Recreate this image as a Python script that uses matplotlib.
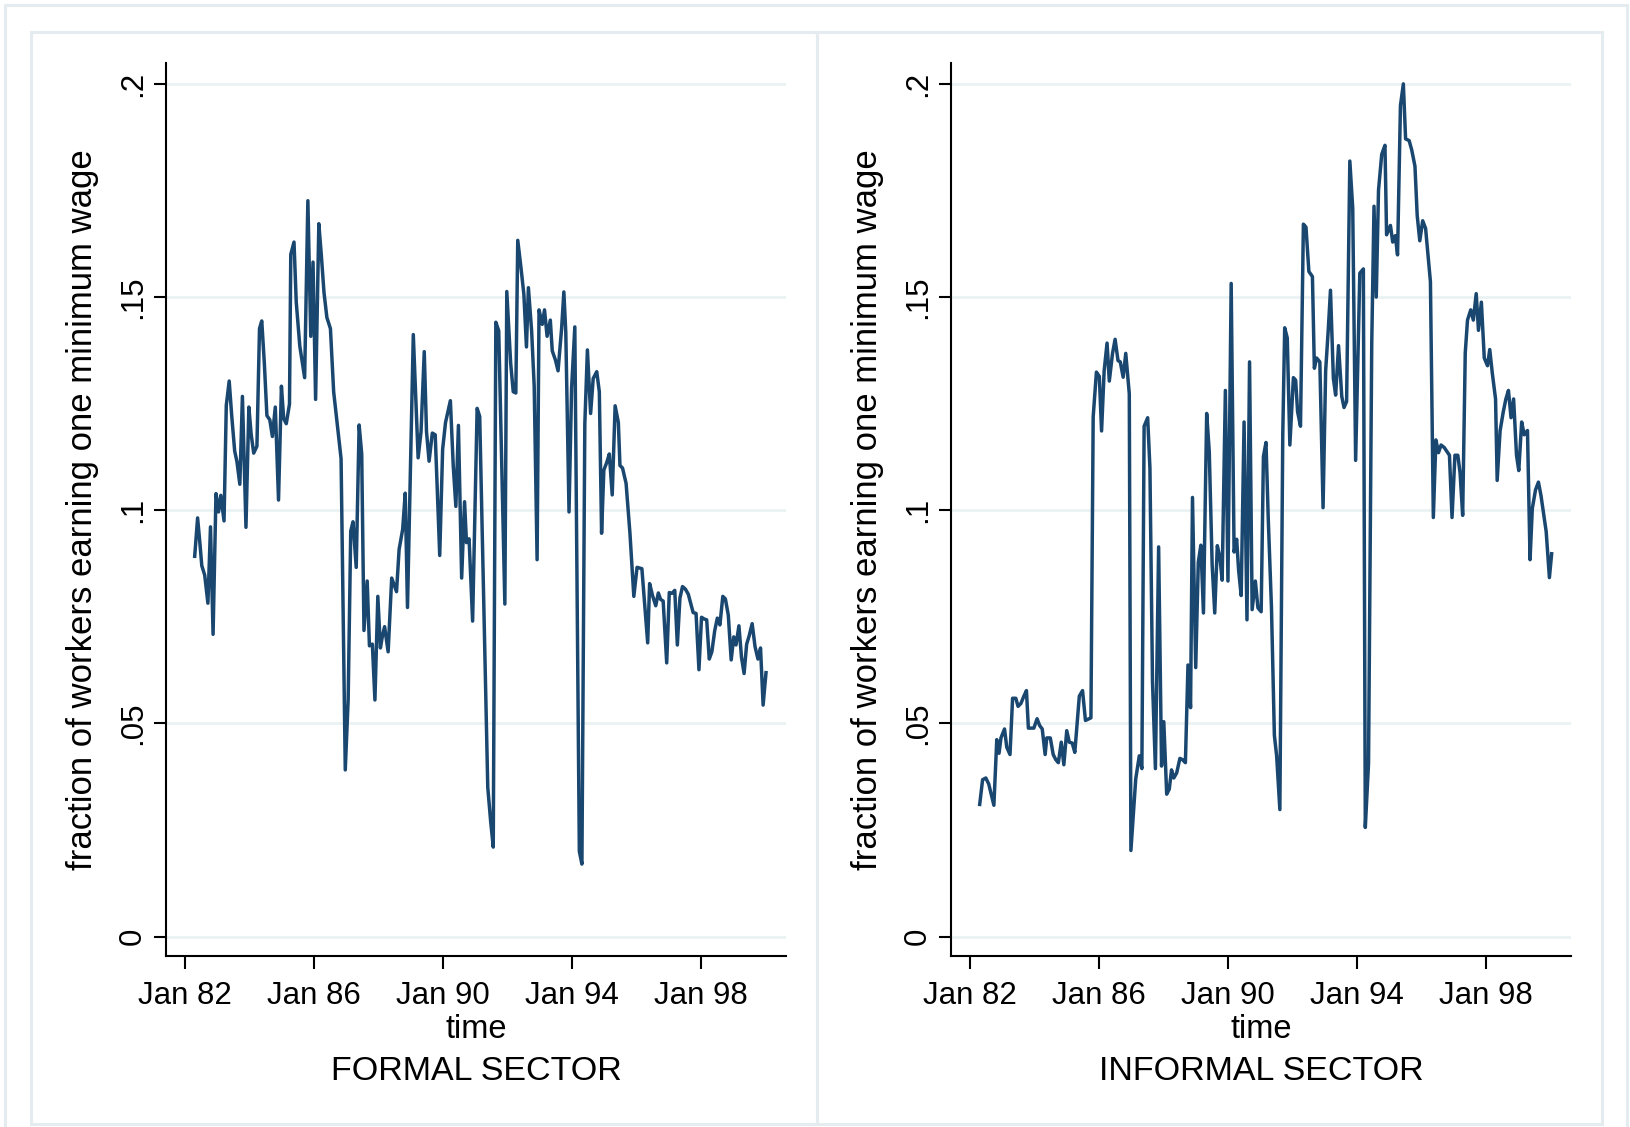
import matplotlib
matplotlib.use("Agg")
import matplotlib.pyplot as plt
from matplotlib.patches import Rectangle

plt.rcParams['font.family'] = ['Liberation Sans', 'DejaVu Sans']

# fraction of workers earning exactly one minimum wage, by month (decimal years)
formal_t = [
    1982.31, 1982.40, 1982.47, 1982.53, 1982.62, 1982.72, 1982.80, 1982.88, 1982.97, 1983.05,
    1983.12, 1983.22, 1983.29, 1983.38, 1983.46, 1983.55, 1983.62, 1983.71, 1983.79, 1983.90,
    1983.99, 1984.06, 1984.14, 1984.24, 1984.32, 1984.39, 1984.47, 1984.55, 1984.64, 1984.72,
    1984.81, 1984.91, 1985.00, 1985.07, 1985.15, 1985.25, 1985.29, 1985.39, 1985.46, 1985.57,
    1985.72, 1985.82, 1985.91, 1985.98, 1986.06, 1986.16, 1986.24, 1986.32, 1986.41, 1986.52,
    1986.62, 1986.73, 1986.85, 1986.98, 1987.07, 1987.15, 1987.22, 1987.32, 1987.41, 1987.49,
    1987.56, 1987.66, 1987.73, 1987.82, 1987.90, 1987.99, 1988.07, 1988.13, 1988.20, 1988.31,
    1988.42, 1988.57, 1988.65, 1988.76, 1988.84, 1988.91, 1989.09, 1989.24, 1989.33, 1989.43,
    1989.50, 1989.58, 1989.68, 1989.77, 1989.91, 1990.00, 1990.09, 1990.17, 1990.24, 1990.33,
    1990.41, 1990.49, 1990.59, 1990.68, 1990.74, 1990.82, 1990.93, 1991.07, 1991.15, 1991.40,
    1991.49, 1991.57, 1991.65, 1991.74, 1991.93, 1991.99, 1992.11, 1992.19, 1992.27, 1992.33,
    1992.43, 1992.52, 1992.60, 1992.66, 1992.76, 1992.84, 1992.93, 1992.99, 1993.09, 1993.16,
    1993.24, 1993.34, 1993.40, 1993.50, 1993.58, 1993.69, 1993.76, 1993.82, 1993.92, 1994.00,
    1994.10, 1994.24, 1994.32, 1994.41, 1994.49, 1994.59, 1994.67, 1994.78, 1994.86, 1994.93,
    1995.00, 1995.09, 1995.17, 1995.26, 1995.35, 1995.45, 1995.50, 1995.58, 1995.69, 1995.81,
    1995.93, 1996.03, 1996.18, 1996.36, 1996.42, 1996.51, 1996.61, 1996.69, 1996.76, 1996.84,
    1996.95, 1997.03, 1997.11, 1997.20, 1997.28, 1997.36, 1997.44, 1997.53, 1997.62, 1997.70,
    1997.77, 1997.86, 1997.95, 1998.03, 1998.11, 1998.19, 1998.27, 1998.35, 1998.44, 1998.52,
    1998.60, 1998.69, 1998.77, 1998.86, 1998.95, 1999.03, 1999.10, 1999.19, 1999.27, 1999.35,
    1999.43, 1999.51, 1999.60, 1999.69, 1999.78, 1999.86, 1999.94, 2000.03,
]
formal_v = [
    .0892, .0982, .0924, .0870, .0848, .0782, .0961, .0709, .1039, .0996,
    .1035, .0975, .1246, .1303, .1220, .1139, .1114, .1061, .1267, .0960,
    .1242, .1179, .1134, .1150, .1426, .1444, .1345, .1222, .1212, .1173,
    .1242, .1024, .1291, .1215, .1203, .1249, .1600, .1629, .1488, .1385,
    .1311, .1726, .1408, .1582, .1260, .1672, .1596, .1511, .1452, .1426,
    .1278, .1202, .1121, .0391, .0556, .0951, .0973, .0866, .1200, .1132,
    .0718, .0834, .0682, .0686, .0555, .0798, .0677, .0704, .0727, .0668,
    .0841, .0809, .0908, .0955, .1040, .0772, .1412, .1123, .1184, .1372,
    .1184, .1115, .1181, .1177, .0894, .1143, .1206, .1233, .1257, .1103,
    .1009, .1199, .0841, .1020, .0924, .0933, .0740, .1239, .1220, .0350,
    .0270, .0210, .1441, .1421, .0780, .1513, .1345, .1278, .1275, .1633,
    .1569, .1506, .1383, .1522, .1421, .1291, .0884, .1470, .1436, .1470,
    .1408, .1446, .1374, .1352, .1327, .1426, .1512, .1417, .0996, .1287,
    .1430, .0200, .0170, .1202, .1376, .1227, .1309, .1325, .1278, .0946,
    .1094, .1112, .1132, .1036, .1245, .1206, .1105, .1099, .1063, .0946,
    .0798, .0866, .0863, .0689, .0828, .0800, .0776, .0806, .0791, .0787,
    .0642, .0807, .0805, .0812, .0684, .0794, .0821, .0815, .0803, .0780,
    .0760, .0758, .0626, .0749, .0745, .0743, .0651, .0668, .0718, .0747,
    .0731, .0798, .0792, .0754, .0649, .0703, .0684, .0729, .0655, .0617,
    .0686, .0706, .0734, .0680, .0651, .0677, .0543, .0619,
]

informal_t = [
    1982.31, 1982.40, 1982.50, 1982.59, 1982.75, 1982.84, 1982.91, 1982.97, 1983.08, 1983.15,
    1983.25, 1983.33, 1983.43, 1983.50, 1983.59, 1983.68, 1983.76, 1983.82, 1983.99, 1984.09,
    1984.17, 1984.25, 1984.34, 1984.39, 1984.50, 1984.59, 1984.67, 1984.75, 1984.84, 1984.92,
    1985.01, 1985.09, 1985.18, 1985.26, 1985.40, 1985.50, 1985.59, 1985.76, 1985.83, 1985.93,
    1986.02, 1986.09, 1986.17, 1986.26, 1986.33, 1986.43, 1986.51, 1986.60, 1986.67, 1986.76,
    1986.84, 1986.95, 1987.00, 1987.15, 1987.26, 1987.34, 1987.41, 1987.52, 1987.59, 1987.67,
    1987.76, 1987.86, 1987.95, 1988.02, 1988.11, 1988.19, 1988.26, 1988.33, 1988.42, 1988.52,
    1988.60, 1988.69, 1988.77, 1988.85, 1988.91, 1989.01, 1989.09, 1989.17, 1989.25, 1989.35,
    1989.43, 1989.52, 1989.60, 1989.68, 1989.76, 1989.83, 1989.93, 1990.01, 1990.11, 1990.20,
    1990.28, 1990.34, 1990.42, 1990.51, 1990.60, 1990.68, 1990.76, 1990.86, 1990.94, 1991.04,
    1991.11, 1991.19, 1991.26, 1991.36, 1991.45, 1991.52, 1991.62, 1991.71, 1991.77, 1991.85,
    1991.93, 1992.04, 1992.11, 1992.17, 1992.26, 1992.35, 1992.43, 1992.52, 1992.63, 1992.69,
    1992.76, 1992.86, 1992.96, 1993.04, 1993.12, 1993.19, 1993.28, 1993.35, 1993.44, 1993.54,
    1993.61, 1993.69, 1993.79, 1993.88, 1993.97, 1994.10, 1994.21, 1994.27, 1994.37, 1994.47,
    1994.54, 1994.61, 1994.68, 1994.78, 1994.88, 1994.93, 1995.05, 1995.12, 1995.20, 1995.27,
    1995.36, 1995.45, 1995.52, 1995.63, 1995.71, 1995.81, 1995.88, 1995.96, 1996.05, 1996.14,
    1996.29, 1996.38, 1996.46, 1996.54, 1996.62, 1996.72, 1996.88, 1996.96, 1997.05, 1997.14,
    1997.21, 1997.29, 1997.37, 1997.44, 1997.54, 1997.62, 1997.71, 1997.78, 1997.87, 1997.96,
    1998.06, 1998.13, 1998.21, 1998.31, 1998.36, 1998.45, 1998.55, 1998.63, 1998.71, 1998.79,
    1998.87, 1998.96, 1999.03, 1999.12, 1999.20, 1999.30, 1999.38, 1999.45, 1999.55, 1999.64,
    1999.72, 1999.88, 1999.98, 2000.05,
]
informal_v = [
    .0310, .0368, .0372, .0358, .0308, .0462, .0430, .0466, .0487, .0444,
    .0427, .0559, .0559, .0540, .0547, .0564, .0577, .0489, .0489, .0511,
    .0495, .0487, .0427, .0466, .0466, .0427, .0415, .0408, .0456, .0403,
    .0483, .0456, .0454, .0432, .0564, .0577, .0507, .0513, .1219, .1324,
    .1314, .1186, .1327, .1392, .1303, .1368, .1401, .1351, .1348, .1312,
    .1368, .1273, .0202, .0370, .0424, .0394, .1197, .1217, .1099, .0597,
    .0394, .0914, .0400, .0504, .0334, .0346, .0391, .0372, .0384, .0418,
    .0415, .0408, .0637, .0537, .1030, .0631, .0878, .0918, .0759, .1227,
    .1138, .0872, .0759, .0917, .0890, .0836, .1281, .0834, .1532, .0902,
    .0932, .0860, .0800, .1207, .0743, .1348, .0767, .0834, .0771, .0762,
    .1126, .1159, .0980, .0771, .0472, .0424, .0298, .1177, .1428, .1404,
    .1153, .1311, .1305, .1231, .1197, .1671, .1664, .1560, .1548, .1333,
    .1357, .1348, .1006, .1327, .1422, .1516, .1309, .1270, .1386, .1267,
    .1241, .1255, .1819, .1709, .1117, .1556, .1566, .0256, .0406, .1392,
    .1713, .1500, .1751, .1835, .1856, .1646, .1668, .1629, .1644, .1599,
    .1949, .2000, .1871, .1867, .1845, .1807, .1691, .1632, .1679, .1661,
    .1536, .0983, .1165, .1135, .1153, .1147, .1129, .0983, .1129, .1129,
    .1087, .0988, .1369, .1446, .1470, .1446, .1508, .1422, .1488, .1357,
    .1339, .1377, .1321, .1261, .1070, .1186, .1231, .1261, .1281, .1217,
    .1261, .1129, .1093, .1207, .1177, .1187, .0884, .1004, .1048, .1066,
    .1034, .0950, .0842, .0898,
]

year_ticks = [1982, 1986, 1990, 1994, 1998]
year_labels = ['Jan 82', 'Jan 86', 'Jan 90', 'Jan 94', 'Jan 98']
frac_ticks = [0, .05, .1, .15, .2]
frac_labels = ['0', '.05', '.1', '.15', '.2']
panels = ['FORMAL SECTOR', 'INFORMAL SECTOR']

W, H = 1630, 1127
LINE = '#1a476f'
GRID = '#eaf2f3'
FRAME = '#e4ecef'

AX_TOP, AX_BOT, AX_W = 63, 956, 620

fig = plt.figure(figsize=(W / 100, H / 100), dpi=100)
fig.patch.set_facecolor('white')


def box(x0, y0, x1, y1):
    # pixel box (top-left origin) drawn on the figure
    fig.add_artist(Rectangle((x0 / W, 1 - y1 / H), (x1 - x0) / W, (y1 - y0) / H,
                             transform=fig.transFigure, fill=False,
                             ec=FRAME, lw=2.2, zorder=0))


box(5, 5, 1627, 1130)
box(31, 32, 817, 1124)
box(817, 32, 1602, 1124)


def panel(left_px, t, v, title):
    ax_h = AX_BOT - AX_TOP
    ax = fig.add_axes([left_px / W, 1 - AX_BOT / H, AX_W / W, ax_h / H])
    ax.plot(t, v, color=LINE, lw=2.5, solid_joinstyle='round', zorder=3)
    ax.set_xlim(1981.42, 2000.65)
    ax.set_ylim(-0.00455, 0.2049)
    ax.set_xticks(year_ticks)
    ax.set_xticklabels(year_labels)
    ax.set_yticks(frac_ticks)
    ax.set_yticklabels(frac_labels, rotation=90, va='center')
    for y in frac_ticks:
        ax.axhline(y, color=GRID, lw=2.0, zorder=1)
    for s in ['top', 'right']:
        ax.spines[s].set_visible(False)
    for s in ['left', 'bottom']:
        ax.spines[s].set_linewidth(1.5)
        ax.spines[s].set_color('black')
    ax.tick_params(direction='out', length=9, width=1.5, labelsize=22.5)
    ax.tick_params(axis='x', pad=9)
    ax.tick_params(axis='y', pad=4)

    ax.set_ylabel('fraction of workers earning one minimum wage', fontsize=25, va='center')
    ax.yaxis.set_label_coords((83 - 166) / AX_W, 0.5)
    ax.set_xlabel('time', fontsize=23.5, va='center')
    ax.xaxis.set_label_coords(0.5, (AX_BOT - 1029) / ax_h)
    ax.text(0.5, (AX_BOT - 1071) / ax_h, title, transform=ax.transAxes,
            fontsize=24.5, ha='center', va='center')
    return ax


panel(166, formal_t, formal_v, panels[0])
panel(951, informal_t, informal_v, panels[1])

fig.savefig('out.png', dpi=100)
